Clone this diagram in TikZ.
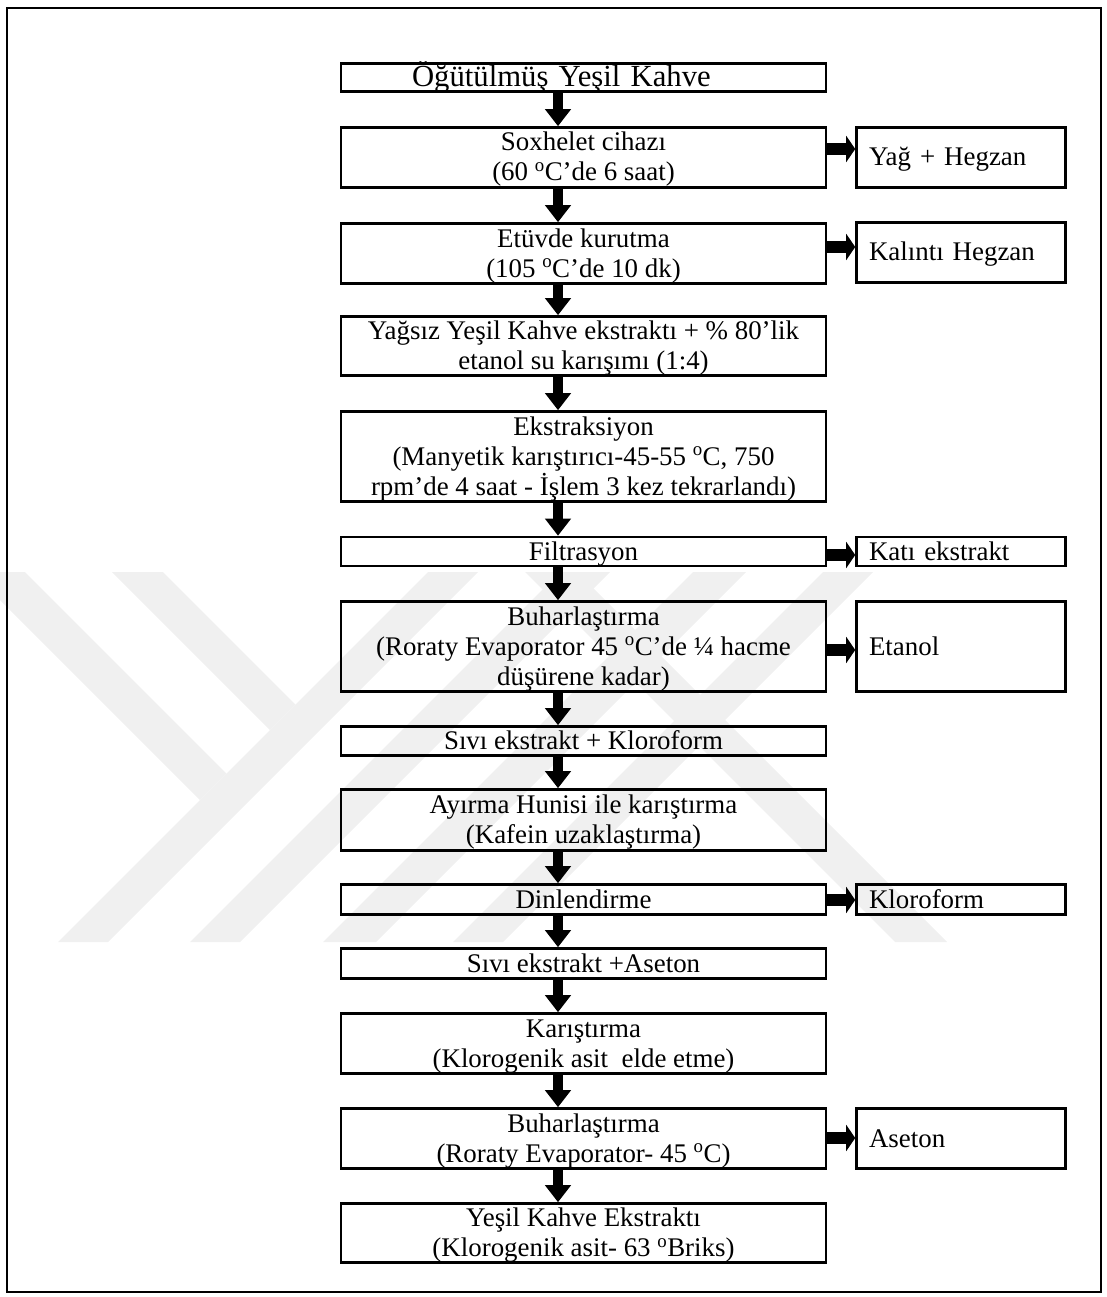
\documentclass[tikz,border=0pt]{standalone}
\usepackage{fontspec}
\setmainfont{Liberation Serif}
\usetikzlibrary{arrows.meta}
\definecolor{wm}{RGB}{240,240,240}
\newcommand\sst{\rule[-6pt]{0pt}{29pt}}
\newcommand\dg{\textsuperscript{o}}
\newcommand\boxfont{\fontsize{26.9pt}{30pt}\selectfont}
\tikzset{
  box/.style={draw=black, line width=2.6pt, inner sep=0pt, minimum width=485pt,
    align=center, font=\boxfont},
  sidebox/.style={draw=black, line width=2.6pt, inner xsep=12.5pt, inner ysep=0pt,
    text width=184pt, align=left, font=\boxfont},
  varrow/.style={line width=10pt, -{Triangle[width=25pt,length=17pt]}},
  harrow/.style={line width=12pt, -{Triangle[width=26pt,length=9pt]}},
  band/.style={fill=wm, draw=none},
  frame/.style={draw=black, line width=2pt}
}
\begin{document}
\begin{tikzpicture}[x=1pt,y=-1pt]
\useasboundingbox (0,0) rectangle (1107,1297);
% watermark
\fill[band] (0,572) -- (25,572) -- (226.5,773.5) -- (200,800) -- (0,600) -- cycle;
\fill[band] (112,572) -- (163,572) -- (295.5,704.5) -- (270,730) -- cycle;
\fill[band] (58,942) -- (108,942) -- (478,572) -- (428,572) -- cycle;
\fill[band] (190,942) -- (240,942) -- (610,572) -- (560,572) -- cycle;
\fill[band] (525,572) -- (577,572) -- (947,942) -- (895,942) -- cycle;
\fill[band] (323,942) -- (376,942) -- (746,572) -- (693,572) -- cycle;
\fill[band] (453,942) -- (503,942) -- (873,572) -- (823,572) -- cycle;
% frame
\draw[frame] (7,8) rectangle (1101,1292);
% main boxes
\node[box, text width=485pt, align=left, minimum height=28pt, text height=23.5pt, text depth=4.5pt,
  font=\fontsize{30.7pt}{34pt}\selectfont] (m1) at (583.5,77.5) {\hspace*{71pt}Öğütülmüş Yeşil Kahve};
\node[box, minimum height=60pt] (m2) at (583.5,157.5) {\sst Soxhelet cihazı\\\sst(60 \dg C’de 6 saat)};
\node[box, minimum height=60pt] (m3) at (583.5,253.5) {\sst Etüvde kurutma\\\sst(105 \dg C’de 10 dk)};
\node[box, minimum height=59pt] (m4) at (583.5,346) {\sst Yağsız Yeşil Kahve ekstraktı + \% 80’lik\\\sst etanol su karışımı (1:4)};
\node[box, minimum height=90pt] (m5) at (583.5,456.5) {\sst Ekstraksiyon\\\sst(Manyetik karıştırıcı-45-55 \dg C, 750\\\sst rpm’de 4 saat - İşlem 3 kez tekrarlandı)};
\node[box, minimum height=29pt] (m6) at (583.5,551.5) {\sst Filtrasyon};
\node[box, minimum height=90pt] (m7) at (583.5,646.5) {\sst Buharlaştırma\\\sst(Roraty Evaporator 45 \dg C’de ¼ hacme\\\sst düşürene kadar)};
\node[box, minimum height=29pt] (m8) at (583.5,741) {\sst Sıvı ekstrakt + Kloroform};
\node[box, minimum height=61pt] (m9) at (583.5,820) {\sst Ayırma Hunisi ile karıştırma\\\sst(Kafein uzaklaştırma)};
\node[box, minimum height=30pt] (m10) at (583.5,899.5) {\sst Dinlendirme};
\node[box, minimum height=30pt] (m11) at (583.5,963.5) {\sst Sıvı ekstrakt +Aseton};
\node[box, minimum height=60pt] (m12) at (583.5,1043.5) {\sst Karıştırma\\\sst(Klorogenik asit~ elde etme)};
\node[box, minimum height=60pt] (m13) at (583.5,1138.5) {\sst Buharlaştırma\\\sst(Roraty Evaporator- 45 \dg C)};
\node[box, minimum height=59pt] (m14) at (583.5,1233) {\sst Yeşil Kahve Ekstraktı\\\sst(Klorogenik asit- 63 \dg Briks)};
% side boxes
\node[sidebox, minimum height=60pt] (s2) at (961,157.5) {\sst Yağ + Hegzan};
\node[sidebox, minimum height=60pt] (s3) at (961,252.5) {\sst Kalıntı Hegzan};
\node[sidebox, minimum height=29pt] (s6) at (961,551.5) {\sst Katı ekstrakt};
\node[sidebox, minimum height=90pt] (s7) at (961,646.5) {\sst Etanol};
\node[sidebox, minimum height=30pt] (s10) at (961,899.5) {\sst Kloroform};
\node[sidebox, minimum height=60pt] (s13) at (961,1138.5) {\sst Aseton};
% vertical arrows
\coordinate (ax) at (558,0);
\draw[varrow] (m1.south -| ax) -- (m2.north -| ax);
\draw[varrow] (m2.south -| ax) -- (m3.north -| ax);
\draw[varrow] (m3.south -| ax) -- (m4.north -| ax);
\draw[varrow] (m4.south -| ax) -- (m5.north -| ax);
\draw[varrow] (m5.south -| ax) -- (m6.north -| ax);
\draw[varrow] (m6.south -| ax) -- (m7.north -| ax);
\draw[varrow] (m7.south -| ax) -- (m8.north -| ax);
\draw[varrow] (m8.south -| ax) -- (m9.north -| ax);
\draw[varrow] (m9.south -| ax) -- (m10.north -| ax);
\draw[varrow] (m10.south -| ax) -- (m11.north -| ax);
\draw[varrow] (m11.south -| ax) -- (m12.north -| ax);
\draw[varrow] (m12.south -| ax) -- (m13.north -| ax);
\draw[varrow] (m13.south -| ax) -- (m14.north -| ax);
% horizontal arrows
\coordinate (h2) at (0,149);
\coordinate (h3) at (0,247);
\coordinate (h6) at (0,555);
\coordinate (h7) at (0,650);
\coordinate (h10) at (0,900);
\coordinate (h13) at (0,1138);
\draw[harrow] (m2.east |- h2) -- (s2.west |- h2);
\draw[harrow] (m3.east |- h3) -- (s3.west |- h3);
\draw[harrow] (m6.east |- h6) -- (s6.west |- h6);
\draw[harrow] (m7.east |- h7) -- (s7.west |- h7);
\draw[harrow] (m10.east |- h10) -- (s10.west |- h10);
\draw[harrow] (m13.east |- h13) -- (s13.west |- h13);
\end{tikzpicture}
\end{document}
